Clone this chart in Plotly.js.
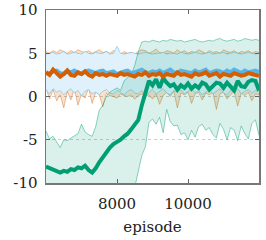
<!DOCTYPE html>
<html><head><meta charset="utf-8">
<script src="https://cdn.plot.ly/plotly-3.0.1.min.js"></script>
<style>html,body{margin:0;padding:0;background:#fff}#c{width:266px;height:240px}</style>
</head><body><div id="c"></div>
<script>
// episodes 6000..12000 step 100 (61 points)
const episodes = [];
for (let e = 6000; e <= 12000; e += 100) episodes.push(e);

const blueMean  = [2.8,2.6,2.9,3.0,2.7,2.6,2.9,2.8,3.0,2.7,2.6,2.9,3.0,2.8,2.7,2.9,3.0,2.7,2.8,2.9,2.6,2.8,2.9,3.0,2.7,2.8,2.9,3.1,2.8,2.7,2.9,2.8,3.0,2.7,2.9,3.1,2.8,2.7,3.0,2.9,2.8,2.7,3.0,2.8,2.9,3.1,2.7,2.8,3.0,2.9,2.7,3.0,2.8,3.1,2.9,2.7,3.0,2.8,2.9,3.0,2.8];
const blueUpper = [4.9,5.0,5.1,4.9,5.0,5.2,4.9,5.0,5.1,5.0,4.9,5.2,5.0,4.9,5.1,5.0,5.0,5.2,4.9,5.0,5.8,5.0,4.9,5.0,5.1,5.0,4.9,5.0,5.1,5.0,4.9,5.0,5.0,5.1,4.9,5.0,5.0,4.9,5.1,5.0,4.9,5.0,5.1,5.0,4.9,5.0,5.1,4.9,5.0,5.0,5.1,4.9,5.0,5.1,5.0,4.9,5.0,5.1,5.0,4.9,5.0];
const blueLower = [0.8,0.3,0.9,0.5,0.7,0.2,0.6,0.9,0.4,0.7,0.1,0.6,0.8,0.3,0.5,0.2,0.6,0.8,0.4,0.3,0.7,0.5,0.2,0.6,0.8,0.4,0.3,0.7,0.1,0.5,0.8,0.3,0.6,0.9,0.4,0.2,0.7,0.5,0.8,0.3,0.6,0.9,0.4,0.7,0.2,0.5,0.8,0.3,0.6,0.9,0.4,0.2,0.7,0.5,0.9,0.3,0.6,0.8,0.4,0.7,0.5];

const orangeMean  = [2.8,2.5,3.1,2.7,2.3,2.6,3.0,2.5,2.4,2.8,2.6,2.9,2.5,2.3,2.7,2.5,2.6,2.4,2.6,2.5,2.4,2.7,2.5,2.6,2.4,2.3,2.6,2.5,2.8,2.4,2.6,2.5,2.7,2.3,2.6,2.5,2.4,2.8,2.5,2.6,2.4,2.3,2.7,2.5,2.6,2.8,2.4,2.5,2.7,2.3,2.6,2.5,2.4,2.7,2.6,2.4,2.5,2.7,2.6,2.5,2.4];
const orangeUpper = [5.2,5.0,5.3,5.1,5.4,5.2,5.0,5.3,5.1,5.4,5.2,5.1,5.3,5.0,5.2,5.4,5.1,5.2,5.0,5.3,5.1,4.9,5.2,5.0,5.1,4.9,5.2,5.4,5.3,5.0,5.2,5.5,5.1,5.0,5.3,5.2,5.0,5.4,5.1,5.3,5.0,5.2,5.1,5.4,5.2,5.0,5.3,5.1,5.2,5.0,5.4,5.2,5.1,5.3,5.0,5.2,5.1,5.3,5.0,5.2,5.1];
const orangeLower = [1.0,-0.3,0.8,-0.5,0.2,-1.3,0.6,-0.4,0.9,-1.0,0.3,-0.2,1.0,-0.8,0.5,0.2,-1.2,0.4,0.1,0.0,-0.2,0.3,0.1,0.0,0.2,-0.3,0.1,0.3,0.0,0.2,-0.3,0.3,-0.9,0.1,0.5,0.0,0.6,-1.3,0.4,0.2,0.5,-0.8,0.3,0.5,-0.4,0.4,0.2,0.5,-1.5,0.3,0.5,-0.3,0.2,0.6,-1.1,0.4,0.1,0.5,-0.5,0.3,0.2];

const greenMean  = [-8.1,-8.3,-8.4,-8.6,-8.8,-8.6,-8.7,-8.4,-8.5,-8.2,-8.3,-8.0,-8.5,-8.8,-8.3,-7.6,-7.0,-6.5,-5.9,-5.5,-5.3,-5.0,-4.6,-4.3,-3.8,-3.3,-2.7,-1.0,0.5,1.8,1.3,2.0,1.0,2.1,1.6,1.2,1.4,0.8,1.3,1.0,1.5,0.9,1.3,1.0,1.6,1.4,0.8,1.2,1.6,1.5,1.0,1.6,1.2,0.7,1.8,1.2,1.1,1.7,1.9,1.8,0.7];
const greenUpper = [-4.0,-4.9,-4.6,-5.2,-5.9,-5.0,-5.1,-4.8,-4.5,-4.3,-3.2,-4.1,-4.4,-4.6,-3.5,-1.6,-1.0,0.0,0.5,0.8,1.0,0.7,1.8,2.2,2.5,3.6,5.2,6.3,6.4,6.3,6.5,6.4,6.3,6.5,6.4,6.6,6.5,6.4,6.5,6.3,6.4,6.5,6.6,6.4,6.3,6.4,6.5,6.4,6.6,6.7,6.5,6.4,6.5,6.6,6.4,6.5,6.7,6.6,6.5,6.6,6.5];
const greenLower = [-12,-12,-12,-12,-12,-12,-12,-12,-12,-12,-12,-12,-12,-12,-12,-12,-12,-12,-12,-12,-12,-12,-12,-12,-12,-10.5,-8.8,-6.8,-5.8,-3.0,-2.6,-3.2,-2.4,-4.2,-1.5,-2.9,-3.4,-3.3,-4.4,-4.2,-5.0,-3.9,-4.7,-3.5,-3.2,-3.9,-3.6,-4.4,-4.8,-3.1,-3.8,-5.0,-3.6,-3.9,-5.1,-3.4,-4.3,-4.9,-3.1,-2.7,-4.5];

const xTickVals = [8000, 10000];
const xTickText = ['8000', '10000'];
const yTickVals = [-10, -5, 0, 5, 10];
const yTickText = ['-10', '-5', '0', '5', '10'];

function band(lower, upper, lineCol, fillCol) {
  return [
    {x: episodes, y: lower, mode: 'lines', line: {color: lineCol, width: 1}, hoverinfo: 'skip'},
    {x: episodes, y: upper, mode: 'lines', line: {color: lineCol, width: 1}, fill: 'tonexty', fillcolor: fillCol, hoverinfo: 'skip'}
  ];
}

const traces = [].concat(
  band(orangeLower, orangeUpper, 'rgba(213,94,0,0.4)', 'rgba(213,94,0,0.18)'),
  band(blueLower, blueUpper, 'rgba(86,180,233,0.5)', 'rgb(225,241,251)'),
  band(greenLower, greenUpper, 'rgba(0,158,115,0.45)', 'rgba(0,158,115,0.15)'),
  [
    {x: episodes, y: blueMean, mode: 'lines', line: {color: '#56B4E9', width: 4}},
    {x: episodes, y: greenMean, mode: 'lines', line: {color: '#009E73', width: 4}},
    {x: episodes, y: orangeMean, mode: 'lines', line: {color: '#D55E00', width: 4}}
  ]
);

const txtFont = {family: 'DejaVu Serif', size: 15, color: '#222'};
const layout = {
  width: 266, height: 240,
  margin: {l: 46, r: 7, t: 10, b: 57},
  showlegend: false,
  paper_bgcolor: '#fff', plot_bgcolor: '#fff',
  font: txtFont,
  xaxis: {
    range: [6000, 12000], tickvals: xTickVals, ticktext: xTickText,
    tickfont: txtFont, ticklabelstandoff: 6,
    ticks: 'inside', ticklen: 4, tickwidth: 1, tickcolor: '#666',
    showline: true, linecolor: '#777', linewidth: 1.5, mirror: 'ticks',
    showgrid: false, zeroline: false,
    title: {text: 'episode', font: txtFont, standoff: 10}
  },
  yaxis: {
    range: [-10, 10], tickvals: yTickVals, ticktext: yTickText,
    tickfont: txtFont, ticklabelstandoff: 4,
    ticks: 'inside', ticklen: 4, tickwidth: 1, tickcolor: '#666',
    showline: true, linecolor: '#777', linewidth: 1.5, mirror: 'ticks',
    showgrid: true, gridcolor: '#cccccc', griddash: 'dot', gridwidth: 1,
    zeroline: false
  }
};
Plotly.newPlot('c', traces, layout, {staticPlot: true, displayModeBar: false});
</script>
</body></html>
